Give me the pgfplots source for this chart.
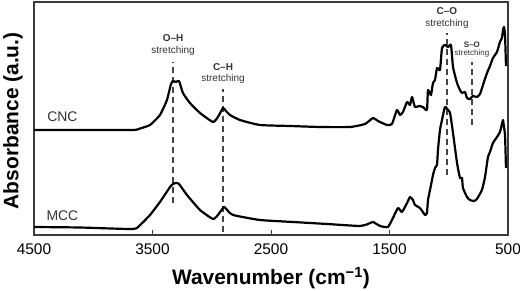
\documentclass[border=0pt]{standalone}
\usepackage{pgfplots}
\pgfplotsset{compat=1.18}
\usepackage{fontspec}
\setmainfont{Liberation Sans}
\definecolor{axisgray}{HTML}{3A3A3A}
\definecolor{dashgray}{HTML}{444444}
\definecolor{txtgray}{HTML}{333333}

% FTIR spectra (offset vertically), wavenumber in cm^-1, absorbance in a.u.
\pgfplotstableread{
w y
4500 1.05
4112 1.05
3665 1.05
3605 1.065
3521 1.10
3437 1.20
3378 1.35
3344 1.51
3327 1.54
3302 1.53
3276 1.54
3243 1.42
3184 1.32
3099 1.22
2990 1.13
2948 1.18
2905 1.27
2880 1.24
2846 1.20
2762 1.15
2593 1.10
2340 1.09
2087 1.08
1833 1.08
1707 1.11
1639 1.17
1597 1.14
1521 1.10
1479 1.11
1437 1.25
1411 1.20
1386 1.23
1352 1.33
1327 1.30
1310 1.38
1285 1.28
1251 1.29
1217 1.28
1184 1.25
1175 1.45
1150 1.40
1133 1.52
1116 1.55
1099 1.67
1074 1.65
1057 1.87
1032 1.90
1006 1.88
981 1.90
964 1.68
930 1.52
905 1.45
888 1.42
863 1.43
846 1.37
821 1.36
796 1.39
762 1.38
736 1.41
711 1.50
677 1.62
652 1.69
627 1.77
593 1.83
568 1.93
551 1.97
542 2.05
534 2.08
525 2.00
517 1.69
}\cnc

\pgfplotstableread{
w y
4500 0.08
4112 0.075
3665 0.06
3605 0.10
3521 0.20
3437 0.33
3352 0.48
3327 0.51
3302 0.52
3276 0.51
3209 0.40
3099 0.25
2990 0.16
2948 0.20
2897 0.28
2863 0.24
2821 0.20
2593 0.15
2314 0.13
2027 0.11
1749 0.09
1682 0.11
1639 0.13
1580 0.09
1513 0.08
1471 0.17
1428 0.27
1395 0.23
1352 0.32
1327 0.38
1302 0.35
1285 0.30
1243 0.27
1200 0.20
1184 0.22
1175 0.35
1158 0.45
1133 0.60
1116 0.67
1099 0.70
1091 0.85
1074 1.05
1057 1.15
1032 1.28
1006 1.25
989 1.22
964 1.02
930 0.72
905 0.57
888 0.57
880 0.47
846 0.38
821 0.35
787 0.34
762 0.36
720 0.45
694 0.58
669 0.78
652 0.83
627 0.92
593 0.98
568 1.03
551 1.11
542 1.15
534 1.08
525 1.00
517 0.67
}\mcc

\begin{document}
\begin{tikzpicture}
\useasboundingbox (0,0) rectangle (520bp,291bp);
\begin{axis}[
  at={(34bp,56bp)}, anchor=south west,
  scale only axis, width=474bp, height=233bp,
  x dir=reverse,
  xmin=500, xmax=4500, ymin=0, ymax=2.33,
  xtick={500,1500,2500,3500,4500},
  ytick=\empty,
  axis line style={axisgray, line width=1.1bp},
  tick style={axisgray, line width=0.9bp},
  major tick length=5bp,
  xtick pos=bottom, tick align=inside,
  /pgf/number format/assume math mode=true,
  /pgf/number format/set thousands separator={},
  xticklabel style={font=\fontsize{15.5}{15.5}\selectfont, text=black, yshift=-5bp},
  xlabel={\textbf{Wavenumber (cm\textsuperscript{−1})}},
  ylabel={\textbf{Absorbance (a.u.)}},
  xlabel style={font=\fontsize{21}{21}\selectfont, at={(axis description cs:0.5,-0.185)}, anchor=center},
  ylabel style={font=\fontsize{21}{21}\selectfont, at={(axis description cs:-0.0443,0.49)}, anchor=center},
  clip=false,
]
  % band positions
  \addplot[dashgray, line width=1.1bp, dash pattern=on 6bp off 4bp] coordinates {(3327,0.32) (3327,1.73)};
  \addplot[dashgray, line width=1.1bp, dash pattern=on 6bp off 4bp] coordinates {(2905,0.03) (2905,1.46)};
  \addplot[dashgray, line width=1.1bp, dash pattern=on 6bp off 4bp] coordinates {(1015,0.60) (1015,2.02)};
  \addplot[dashgray, line width=1.1bp, dash pattern=on 6bp off 4bp] coordinates {(804,1.10) (804,1.73)};

  % spectra
  \addplot[black, line width=2.2bp, line join=round, smooth, tension=0.3] table[x=w, y=y] {\cnc};
  \addplot[black, line width=2.2bp, line join=round, smooth, tension=0.3] table[x=w, y=y] {\mcc};

  % sample names
  \node[txtgray, font=\fontsize{14}{14}\selectfont] at (axis cs:4260,1.18) {CNC};
  \node[txtgray, font=\fontsize{14}{14}\selectfont] at (axis cs:4260,0.19) {MCC};

  % band annotations
  \node[txtgray, font=\fontsize{10}{10}\selectfont\bfseries] at (axis cs:3327,1.97) {O–H};
  \node[txtgray, font=\fontsize{10}{10}\selectfont] at (axis cs:3327,1.84) {stretching};
  \node[txtgray, font=\fontsize{10}{10}\selectfont\bfseries] at (axis cs:2905,1.68) {C–H};
  \node[txtgray, font=\fontsize{10}{10}\selectfont] at (axis cs:2905,1.56) {stretching};
  \node[txtgray, font=\fontsize{10}{10}\selectfont\bfseries] at (axis cs:1015,2.24) {C–O};
  \node[txtgray, font=\fontsize{10}{10}\selectfont] at (axis cs:1015,2.11) {stretching};
  \node[txtgray, font=\fontsize{8}{8}\selectfont\bfseries] at (axis cs:804,1.90) {S–O};
  \node[txtgray, font=\fontsize{8}{8}\selectfont] at (axis cs:804,1.82) {stretching};
\end{axis}
\end{tikzpicture}
\end{document}
